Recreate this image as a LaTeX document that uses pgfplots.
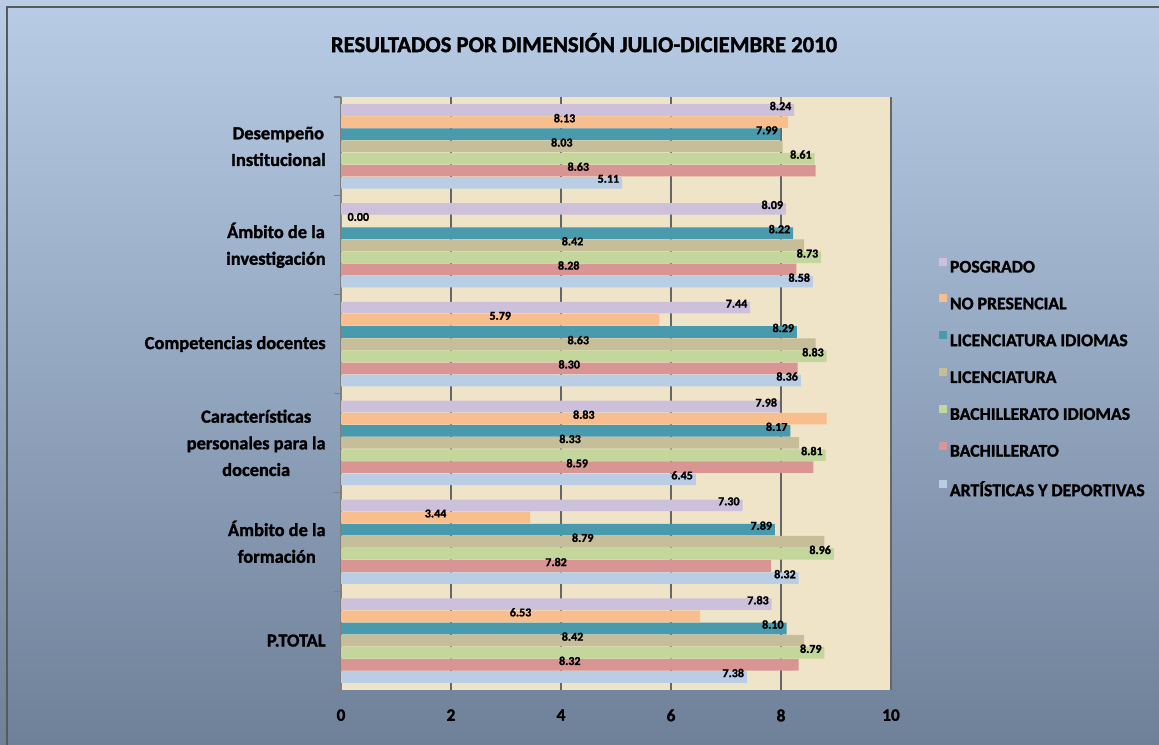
\documentclass[border=0pt]{standalone}
\usepackage{pgfplots}
\usepackage{pgfplotstable}
\pgfplotsset{compat=1.18}
\usepackage{fontspec}
\setmainfont{Carlito}
\newfontfamily\heavy[BoldFeatures={FakeBold=1.5}]{Carlito}

\definecolor{cPos}{RGB}{204,192,218}
\definecolor{cNoP}{RGB}{249,190,142}
\definecolor{cLicI}{RGB}{74,154,174}
\definecolor{cLic}{RGB}{198,190,152}
\definecolor{cBacI}{RGB}{195,214,155}
\definecolor{cBac}{RGB}{217,149,148}
\definecolor{cArt}{RGB}{185,205,229}
\definecolor{bgtop}{RGB}{184,204,230}
\definecolor{bgbot}{RGB}{111,129,153}
\definecolor{parch}{RGB}{240,228,200}

\pgfplotstableread{
y posg nopres licid lic bachid bach art
0 7.83 6.53 8.10 8.42 8.79 8.32 7.38
1 7.30 3.44 7.89 8.79 8.96 7.82 8.32
2 7.98 8.83 8.17 8.33 8.81 8.59 6.45
3 7.44 5.79 8.29 8.63 8.83 8.30 8.36
4 8.09 0.00 8.22 8.42 8.73 8.28 8.58
5 8.24 8.13 7.99 8.03 8.61 8.63 5.11
}\datatable

\pgfplotsset{
  endlab/.style={every node near coord/.append style={anchor=east, xshift=-1pt}},
  centerlab/.style={visualization depends on={\thisrow{#1}\as\val},
     every node near coord/.append style={anchor=center, xshift={(max(\val*20.625,13)-\val*41.25)*1pt}}},
}

\begin{document}
\begin{tikzpicture}
\useasboundingbox (0,0) rectangle (869.25pt,558pt);
\shade[top color=bgtop,bottom color=bgbot] (0,0) rectangle (869.25pt,558pt);
\draw[gray!70!black, line width=1.5pt] (5.25pt,-10pt) -- (5.25pt,552.75pt) -- (880pt,552.75pt);
\node[font=\heavy\bfseries\fontsize{17}{20}\selectfont] at (438pt,526pt) {RESULTADOS POR DIMENSIÓN JULIO-DICIEMBRE 2010};
\begin{axis}[
  at={(255.75pt,40.5pt)}, anchor=south west,
  scale only axis, width=412.5pt, height=444.75pt,
  xbar=0.4pt, bar width=8.7pt,
  xmin=0, xmax=10, ymin=-0.5, ymax=5.5,
  axis background/.style={fill=parch},
  axis lines*=left,
  x axis line style={draw=none},
  y axis line style={-, draw=gray, line width=1pt},
  xtick={0,2,...,10},
  ytick={0,...,5},
  yticklabels={P.TOTAL, {Ámbito de la\\formación}, {Características\\personales para la\\docencia}, Competencias docentes, {Ámbito de la\\investigación}, {Desempeño\\Institucional}},
  minor ytick={-0.5,0.5,...,5.5},
  major tick length=0pt, minor tick length=5pt, tick align=outside,
  minor tick style={gray, line width=0.8pt},
  xmajorgrids, major grid style={black!60, line width=0.9pt},
  /pgf/number format/assume math mode=true,
  xticklabel style={font=\heavy\bfseries\fontsize{13}{15}\selectfont, yshift=-11pt},
  yticklabel style={align=center, font=\heavy\bfseries\fontsize{13.8}{20}\selectfont, xshift=-8pt},
  nodes near coords={\pgfmathprintnumber[fixed,fixed zerofill,precision=2]{\pgfplotspointmeta}},
  every node near coord/.append style={font=\heavy\bfseries\fontsize{9}{10}\selectfont, text=black, yshift=3pt, inner sep=1pt},
  legend style={at={(1.08,0.734)}, anchor=north west, draw=none, fill=none, font=\heavy\bfseries\fontsize{13.3}{15}\selectfont, row sep=13pt},
  legend cell align=left,
  reverse legend,
  legend image code/.code={\fill[#1,draw=none] (-3pt,1.5pt) rectangle (3pt,7.5pt);},
]
\addplot[fill=cArt, draw=none, endlab] table[x=art, y=y] {\datatable};
\addplot[fill=cBac, draw=none, centerlab=bach] table[x=bach, y=y] {\datatable};
\addplot[fill=cBacI, draw=none, endlab] table[x=bachid, y=y] {\datatable};
\addplot[fill=cLic, draw=none, centerlab=lic] table[x=lic, y=y] {\datatable};
\addplot[fill=cLicI, draw=none, endlab] table[x=licid, y=y] {\datatable};
\addplot[fill=cNoP, draw=none, centerlab=nopres] table[x=nopres, y=y] {\datatable};
\addplot[fill=cPos, draw=none, endlab] table[x=posg, y=y] {\datatable};
\legend{ARTÍSTICAS Y DEPORTIVAS, BACHILLERATO, BACHILLERATO IDIOMAS, LICENCIATURA, LICENCIATURA IDIOMAS, NO PRESENCIAL, POSGRADO}
\end{axis}
\end{tikzpicture}
\end{document}
